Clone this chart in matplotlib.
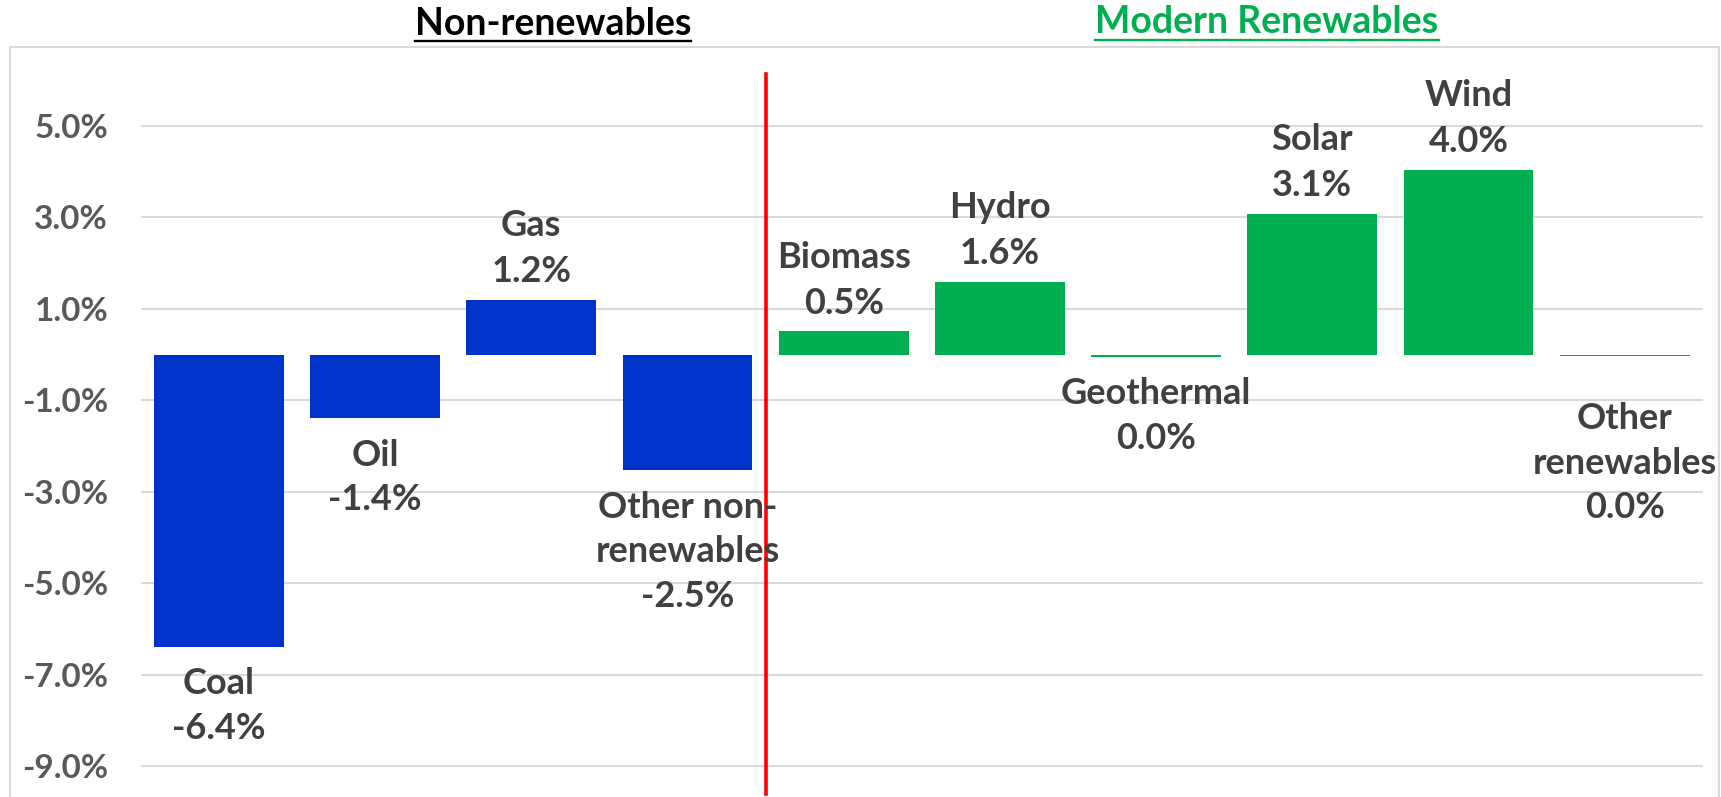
import matplotlib
matplotlib.use('Agg')
import matplotlib.pyplot as plt
from matplotlib.patches import Rectangle
from matplotlib.lines import Line2D

# data (% change)
categories = ['Coal', 'Oil', 'Gas', 'Other non-\nrenewables', 'Biomass',
              'Hydro', 'Geothermal', 'Solar', 'Wind', 'Other\nrenewables']
changes = [-6.38, -1.39, 1.2, -2.53, 0.51, 1.59, -0.04, 3.08, 4.04, -0.02]
groups = ['non', 'non', 'non', 'non', 'ren', 'ren', 'ren', 'ren', 'ren', 'ren']
yticks = [-9, -7, -5, -3, -1, 1, 3, 5]
group_titles = ['Non-renewables', 'Modern Renewables']

BLUE = '#0033CC'
GREEN = '#00B050'
LABEL = '#404040'
GRID = '#D9D9D9'
FONT = ['Lato', 'DejaVu Sans']

W, H = 1721, 797
fig = plt.figure(figsize=(W / 100, H / 100), dpi=100)
fig.patch.set_facecolor('white')
plt.rcParams['font.family'] = FONT

# outer light grey frame (bottom edge runs off the image)
fig.patches.append(Rectangle((10 / W, -0.1), (1719 - 10) / W, (1 - 47 / H) + 0.1,
                             transform=fig.transFigure, fill=False,
                             edgecolor=GRID, linewidth=1.5))

ax = fig.add_axes([140.8 / W, 0.0, (1702.8 - 140.8) / W, (H - 66.5) / H])
ax.set_xlim(-0.5, len(categories) - 0.5)
ax.set_ylim(-9.667, 6.3)

colors = [BLUE if g == 'non' else GREEN for g in groups]
x = list(range(len(categories)))
ax.bar(x, changes, width=0.832, color=colors, zorder=2)

ax.set_yticks(yticks)
ax.set_yticklabels([f'{t:.1f}%' for t in yticks])
ax.tick_params(axis='y', length=0, pad=23.5, labelsize=24, labelcolor='#595959')
for lab in ax.get_yticklabels():
    lab.set_fontweight('bold')
ax.set_xticks([])
ax.grid(axis='y', color=GRID, linewidth=1.5, zorder=0)
for s in ax.spines.values():
    s.set_visible(False)

# red divider between the two groups
ax.plot([3.5, 3.5], [6.137, -9.6], color='#FF0000', linewidth=2.6,
        clip_on=False, zorder=3)

# data labels: name lines then value, outside the bar end
extra = {9: 26}
for i, (name, v) in enumerate(zip(categories, changes)):
    val = f'{round(v, 1) + 0.0:.1f}%'
    lines = name.split('\n') + [val]
    if v >= 0:
        for k, txt in enumerate(reversed(lines)):
            ax.annotate(txt, (i, v), xytext=(0, 28 + 46 * k), textcoords='offset pixels',
                        ha='center', va='center', fontsize=26, fontweight='bold',
                        color=LABEL, zorder=4, annotation_clip=False)
    else:
        for k, txt in enumerate(lines):
            ax.annotate(txt, (i, v), xytext=(0, -(37 + extra.get(i, 0) + 44.5 * k)),
                        textcoords='offset pixels', ha='center', va='center',
                        fontsize=26, fontweight='bold', color=LABEL, zorder=4,
                        annotation_clip=False)

# underlined group headings
titles = []
titles.append(fig.text(553 / W, 1 - 35 / H, group_titles[0], ha='center', va='baseline',
                       fontsize=27, fontweight='bold', color='black'))
titles.append(fig.text(1267 / W, 1 - 33 / H, group_titles[1], ha='center', va='baseline',
                       fontsize=27, fontweight='bold', color=GREEN))
fig.canvas.draw()
for t, uy in zip(titles, [41, 39.5]):
    bb = t.get_window_extent()
    fig.lines.append(Line2D([bb.x0 / W, bb.x1 / W], [1 - uy / H, 1 - uy / H],
                            transform=fig.transFigure, color=t.get_color(),
                            linewidth=1.7))

fig.savefig('out.png', dpi=100, facecolor='white')
